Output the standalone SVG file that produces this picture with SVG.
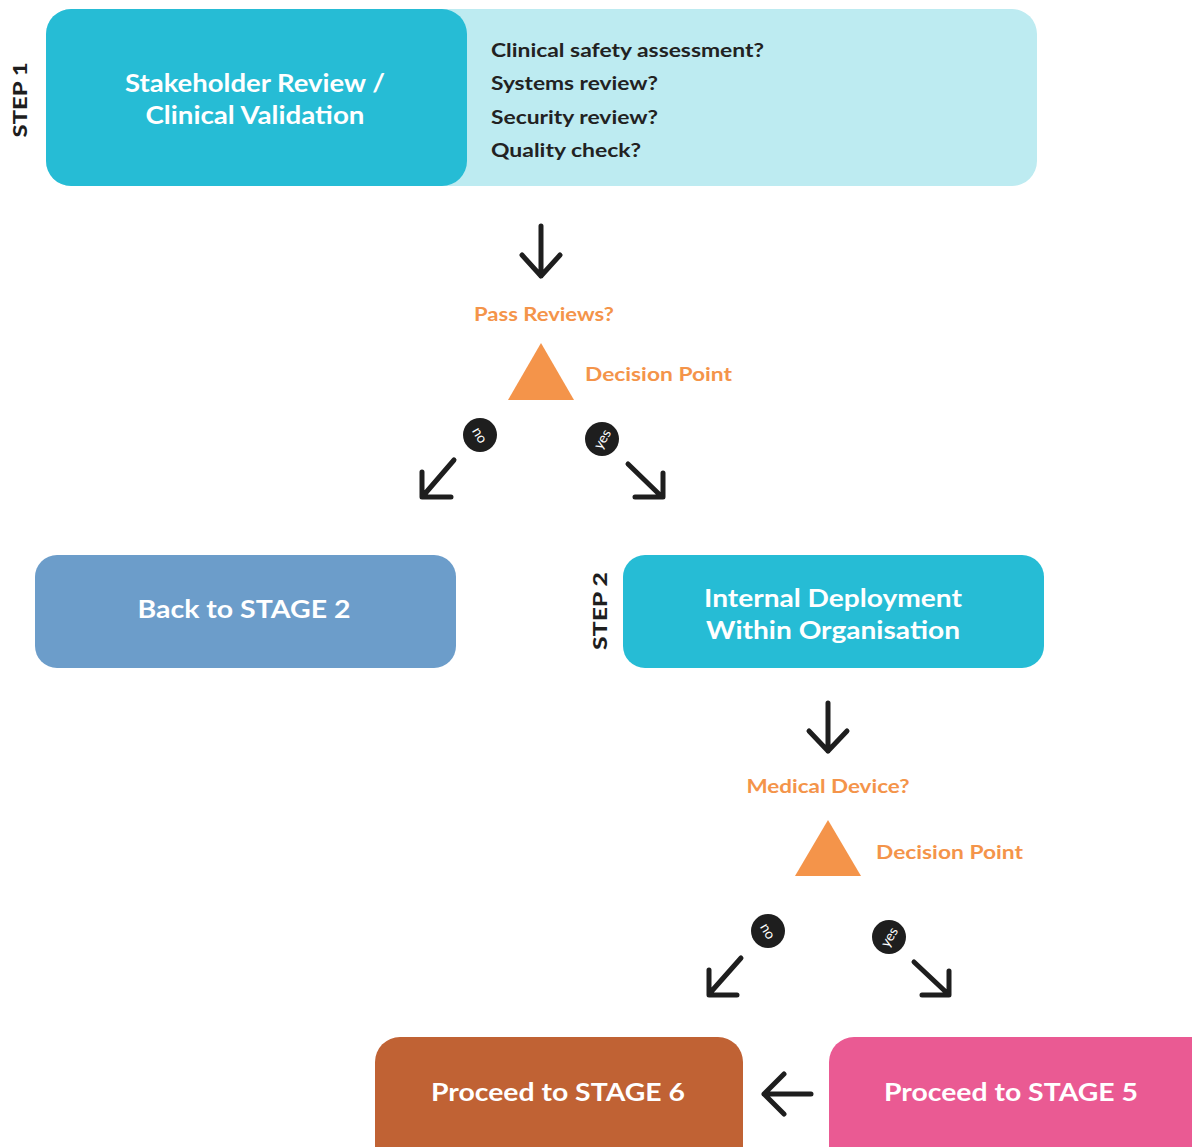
<svg xmlns="http://www.w3.org/2000/svg" width="1192" height="1147" viewBox="0 0 1192 1147">
<defs>
<style>
.t{font-family:Lato,"Open Sans","Liberation Sans",sans-serif;font-weight:bold}
.w{fill:#ffffff;font-size:24px;text-anchor:middle}
.q{fill:#222222;font-size:19px}
.o{fill:#f4944a;font-size:19.5px}
.s{fill:#1e1e1e;font-size:19px;font-weight:900;text-anchor:middle}
.a{fill:none;stroke:#1e1e1e;stroke-width:5;stroke-linecap:round;stroke-linejoin:round}
.b{fill:#1e1e1e}
.bl{font-family:Lato,"Open Sans","Liberation Sans",sans-serif;fill:#ffffff;font-size:14px;text-anchor:middle}
</style>
</defs>
<rect width="1192" height="1147" fill="#ffffff"/>

<g id="step1">
<rect x="46" y="9" width="991" height="177" rx="25" fill="#bdebf1"/>
<rect x="46" y="9" width="421" height="177" rx="25" fill="#26bcd5"/>
<text class="t w" x="255" y="92" textLength="260" lengthAdjust="spacingAndGlyphs">Stakeholder Review /</text>
<text class="t w" x="255" y="124" textLength="219" lengthAdjust="spacingAndGlyphs">Clinical Validation</text>
<text class="t q" x="491" y="57" textLength="273" lengthAdjust="spacingAndGlyphs">Clinical safety assessment?</text>
<text class="t q" x="491" y="90" textLength="167" lengthAdjust="spacingAndGlyphs">Systems review?</text>
<text class="t q" x="491" y="124" textLength="167" lengthAdjust="spacingAndGlyphs">Security review?</text>
<text class="t q" x="491" y="157" textLength="150" lengthAdjust="spacingAndGlyphs">Quality check?</text>
<text class="t s" transform="translate(27,100) rotate(-90)" textLength="75" lengthAdjust="spacingAndGlyphs">STEP 1</text>
</g>

<g id="decision1">
<text class="t o" x="544" y="321" text-anchor="middle" textLength="140" lengthAdjust="spacingAndGlyphs">Pass Reviews?</text>
<polygon points="541,343 574,400 508,400" fill="#f4944a"/>
<text class="t o" x="585" y="381" textLength="147" lengthAdjust="spacingAndGlyphs">Decision Point</text>
</g>

<g id="back-stage2">
<rect x="35" y="555" width="421" height="113" rx="22" fill="#6c9dca"/>
<text class="t w" x="244" y="618" textLength="213" lengthAdjust="spacingAndGlyphs">Back to STAGE 2</text>
</g>

<g id="step2">
<rect x="623" y="555" width="421" height="113" rx="22" fill="#26bcd5"/>
<text class="t w" x="833" y="607" textLength="258" lengthAdjust="spacingAndGlyphs">Internal Deployment</text>
<text class="t w" x="833" y="639" textLength="254" lengthAdjust="spacingAndGlyphs">Within Organisation</text>
<text class="t s" transform="translate(607,611) rotate(-90)" textLength="78" lengthAdjust="spacingAndGlyphs">STEP 2</text>
</g>

<g id="decision2">
<text class="t o" x="828" y="793" text-anchor="middle" textLength="163" lengthAdjust="spacingAndGlyphs">Medical Device?</text>
<polygon points="828,820 861,876 795,876" fill="#f4944a"/>
<text class="t o" x="876" y="859" textLength="147" lengthAdjust="spacingAndGlyphs">Decision Point</text>
</g>

<g id="stage6">
<rect x="375" y="1037" width="368" height="140" rx="25" fill="#c06234"/>
<text class="t w" x="558" y="1101" textLength="254" lengthAdjust="spacingAndGlyphs">Proceed to STAGE 6</text>
</g>

<g id="stage5">
<rect x="829" y="1037" width="400" height="140" rx="25" fill="#ea5a93"/>
<text class="t w" x="1011" y="1101" textLength="254" lengthAdjust="spacingAndGlyphs">Proceed to STAGE 5</text>
</g>

<g id="connectors">
<path class="a" d="M541,226 V276 M522,255 L541,276 L560,255"/>
<path class="a" d="M454,460 L423,496 M422,472 V497 H451"/>
<path class="a" d="M628,464 L661,496 M663,473 V497 H635"/>
<circle class="b" cx="480" cy="435" r="17"/>
<text class="bl" transform="translate(480,435) rotate(60)" y="5">no</text>
<circle class="b" cx="602" cy="439" r="17"/>
<text class="bl" transform="translate(602,439) rotate(-60)" y="5">yes</text>

<path class="a" d="M828,703 V751 M809,731 L828,751 L847,731"/>
<path class="a" d="M741,958 L710,993 M709,970 V995 H737"/>
<path class="a" d="M914,962 L947,993 M949,971 V995 H922"/>
<circle class="b" cx="768" cy="931" r="17"/>
<text class="bl" transform="translate(768,931) rotate(60)" y="5">no</text>
<circle class="b" cx="889" cy="937" r="17"/>
<text class="bl" transform="translate(889,937) rotate(-60)" y="5">yes</text>

<path class="a" d="M811,1094 H764 M784,1074 L764,1094 L784,1114"/>
</g>
</svg>
